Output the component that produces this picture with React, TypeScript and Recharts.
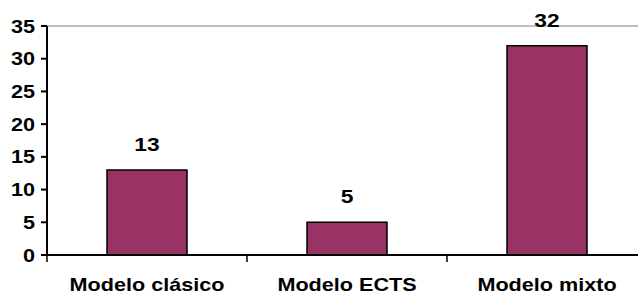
import { BarChart, Bar, XAxis, YAxis, ReferenceLine, LabelList } from 'recharts';

// Data
const categories = ['Modelo clásico', 'Modelo ECTS', 'Modelo mixto'];
const values = [13, 5, 32];
const yTicks = [0, 5, 10, 15, 20, 25, 30, 35];

const FONT = '"Liberation Sans", Arial, sans-serif';
const STRETCH = 1.2; // the original text looks a bit wide

const data = categories.map((name, i) => ({ name, value: values[i] }));

function YTick(props: any) {
  const { x, y, payload } = props;
  return (
    <g transform={`translate(${x},${y}) scale(${STRETCH},1)`}>
      <text x={0} y={0} dy={6.5} textAnchor="end" fontFamily={FONT} fontWeight="bold" fontSize={18} fill="#000">
        {payload.value}
      </text>
    </g>
  );
}

// category label plus the small tick mark on the left band boundary
function CatTick(props: any) {
  const { x, y, payload } = props;
  const half = payload.offset ?? 0;
  return (
    <g>
      <line x1={x - half} x2={x - half} y1={y} y2={y + 7} stroke="#000" strokeWidth={1.5} />
      <g transform={`translate(${x},${y}) scale(${STRETCH},1)`}>
        <text x={0} y={0} dy={36} textAnchor="middle" fontFamily={FONT} fontWeight="bold" fontSize={18} fill="#000">
          {payload.value}
        </text>
      </g>
    </g>
  );
}

function ValueLabel(props: any) {
  const { x, y, width, value } = props;
  return (
    <g transform={`translate(${x + width / 2},${y - 19}) scale(${STRETCH},1)`}>
      <text x={0} y={0} textAnchor="middle" fontFamily={FONT} fontWeight="bold" fontSize={19} fill="#000">
        {value}
      </text>
    </g>
  );
}

export default function App() {
  return (
    <div style={{ position: 'absolute', left: 0, top: 0, width: 638, height: 295, overflow: 'hidden', background: '#fff' }}>
      <BarChart width={650} height={295} data={data} margin={{ top: 26, right: 3, left: 0, bottom: 0 }} barCategoryGap="30%">
        <XAxis
          dataKey="name"
          height={40}
          stroke="#000"
          strokeWidth={2}
          tickLine={false}
          tickSize={0}
          tickMargin={0}
          interval={0}
          tick={<CatTick />}
        />
        <YAxis
          width={47}
          domain={[0, 35]}
          ticks={yTicks}
          stroke="#000"
          strokeWidth={2}
          tickSize={6}
          tickMargin={6}
          tick={<YTick />}
        />
        <Bar dataKey="value" fill="#993366" stroke="#000" strokeWidth={1.5} isAnimationActive={false}>
          <LabelList dataKey="value" content={<ValueLabel />} />
        </Bar>
        {/* grey plot-area border on top */}
        <ReferenceLine y={35} stroke="#808080" strokeWidth={1} />
      </BarChart>
    </div>
  );
}
